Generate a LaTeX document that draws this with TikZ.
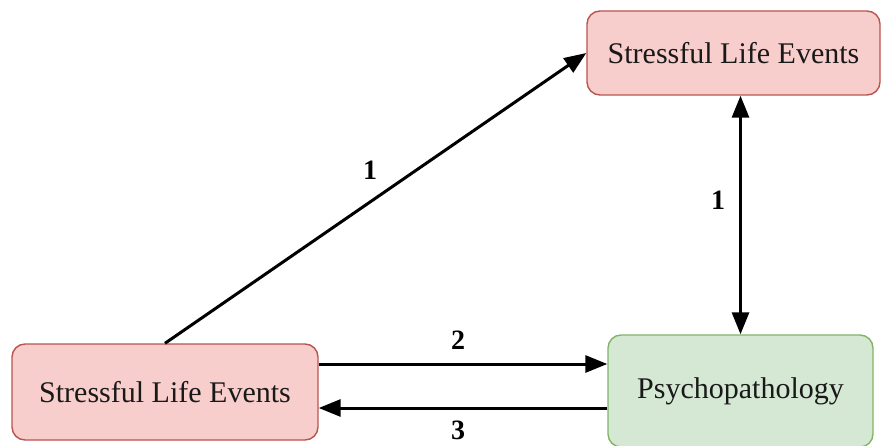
\documentclass[tikz,border=0pt]{standalone}
\usepackage{fontspec}
\setmainfont{Liberation Serif}
\usetikzlibrary{arrows.meta}
\definecolor{redfill}{HTML}{F8CECC}
\definecolor{redline}{HTML}{B85450}
\definecolor{greenfill}{HTML}{D5E8D4}
\definecolor{greenline}{HTML}{82B366}
\tikzset{
  box/.style={draw, line width=1.4pt, rounded corners=13pt, inner sep=0pt,
    font=\fontsize{30}{36}\selectfont, text=black!90},
  redbox/.style={box, fill=redfill, draw=redline},
  greenbox/.style={box, fill=greenfill, draw=greenline},
  link/.style={line width=3pt, -{Triangle[length=22pt,width=17pt]}},
  num/.style={font=\fontsize{28}{32}\selectfont\bfseries}
}

\begin{document}
\begin{tikzpicture}[x=1pt,y=-1pt]
   \useasboundingbox (0,0) rectangle (882,446);
   \node[redbox, minimum width=293pt, minimum height=84pt] (events) at (733.5,53) {Stressful Life Events};
   \node[redbox, minimum width=306pt, minimum height=96pt] (stress) at (165,392) {Stressful Life Events};
   \node[greenbox, minimum width=265pt, minimum height=112pt] (psycho) at (740.5,391) {Psychopathology};
   % paths between the boxes
   \draw[link] (stress.north) -- (events.west);
   \draw[link, {Triangle[length=22pt,width=17pt]}-{Triangle[length=22pt,width=17pt]}] (psycho.north) -- (psycho.north |- events.south);
   \draw[link] ([yshift=28pt]stress.east) -- ([yshift=28pt]stress.east -| psycho.west);
   \draw[link] ([yshift=-17pt]psycho.west) -- ([yshift=-17pt]psycho.west -| stress.east);
   % path numbers
   \node[num] (n1) at (370,170) {1};
   \node[num] (n2) at (458,340) {2};
   \node[num] (n3) at (458,430) {3};
   \node[num] (n4) at (718,200) {1};
 \end{tikzpicture}
\end{document}
